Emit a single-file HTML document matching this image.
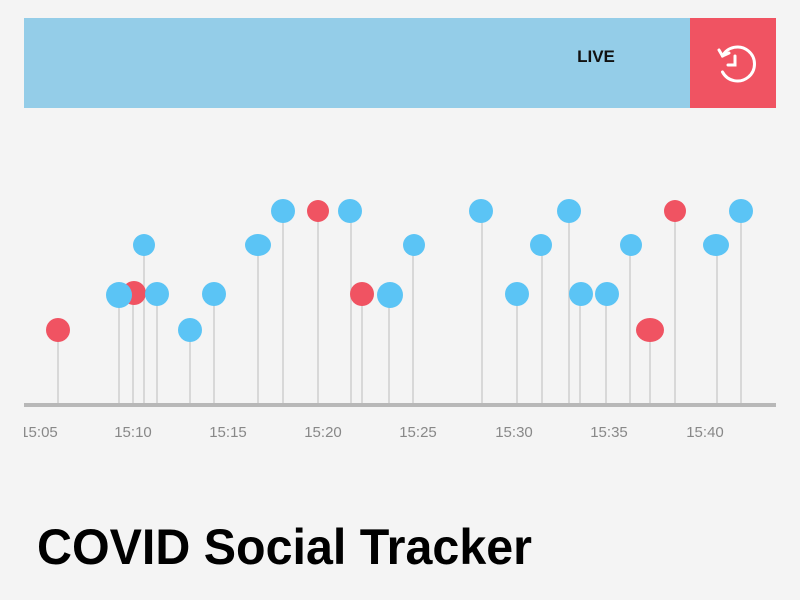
<!DOCTYPE html>
<html><head><meta charset="utf-8"><style>
html,body{margin:0;padding:0;background:#f4f4f4;}
svg{display:block;}
</style></head><body>
<svg width="800" height="600" viewBox="0 0 800 600" xmlns="http://www.w3.org/2000/svg">
<rect width="800" height="600" fill="#f4f4f4"/>
<rect x="24" y="18" width="666" height="90" fill="#94cde8"/>
<rect x="690" y="18" width="86" height="90" fill="#f05362"/>
<text x="596" y="62" text-anchor="middle" font-family="Liberation Sans, sans-serif" font-weight="bold" font-size="17" fill="#111">LIVE</text>
<g fill="none" stroke="#fff" stroke-width="3" stroke-linecap="round">
<path d="M722.5 56 A17 17 0 1 1 722.5 72"/>
<path d="M719 50 L722.5 56 L729 53"/>
<path d="M735 56 L735 65 L728 65"/>
</g>
<g stroke="#cfcfcf" stroke-width="1.5">
<line x1="58" y1="330" x2="58" y2="405"/>
<line x1="119" y1="295" x2="119" y2="405"/>
<line x1="133" y1="293" x2="133" y2="405"/>
<line x1="144" y1="245" x2="144" y2="405"/>
<line x1="157" y1="294" x2="157" y2="405"/>
<line x1="190" y1="330" x2="190" y2="405"/>
<line x1="214" y1="294" x2="214" y2="405"/>
<line x1="258" y1="245" x2="258" y2="405"/>
<line x1="283" y1="211" x2="283" y2="405"/>
<line x1="318" y1="211" x2="318" y2="405"/>
<line x1="351" y1="211" x2="351" y2="405"/>
<line x1="362" y1="294" x2="362" y2="405"/>
<line x1="389" y1="295" x2="389" y2="405"/>
<line x1="413" y1="245" x2="413" y2="405"/>
<line x1="482" y1="211" x2="482" y2="405"/>
<line x1="517" y1="294" x2="517" y2="405"/>
<line x1="542" y1="245" x2="542" y2="405"/>
<line x1="569" y1="211" x2="569" y2="405"/>
<line x1="580" y1="294" x2="580" y2="405"/>
<line x1="606" y1="294" x2="606" y2="405"/>
<line x1="630" y1="245" x2="630" y2="405"/>
<line x1="650" y1="330" x2="650" y2="405"/>
<line x1="675" y1="211" x2="675" y2="405"/>
<line x1="717" y1="245" x2="717" y2="405"/>
<line x1="741" y1="211" x2="741" y2="405"/>
</g>
<g>
<circle cx="58" cy="330" r="12" fill="#f05362"/>
<circle cx="134" cy="293" r="12" fill="#f05362"/>
<circle cx="119" cy="295" r="13" fill="#5bc4f5"/>
<circle cx="144" cy="245" r="11" fill="#5bc4f5"/>
<circle cx="157" cy="294" r="12" fill="#5bc4f5"/>
<circle cx="190" cy="330" r="12" fill="#5bc4f5"/>
<circle cx="214" cy="294" r="12" fill="#5bc4f5"/>
<ellipse cx="258" cy="245" rx="13" ry="11" fill="#5bc4f5"/>
<circle cx="283" cy="211" r="12" fill="#5bc4f5"/>
<circle cx="318" cy="211" r="11" fill="#f05362"/>
<circle cx="350" cy="211" r="12" fill="#5bc4f5"/>
<circle cx="362" cy="294" r="12" fill="#f05362"/>
<circle cx="390" cy="295" r="13" fill="#5bc4f5"/>
<circle cx="414" cy="245" r="11" fill="#5bc4f5"/>
<circle cx="481" cy="211" r="12" fill="#5bc4f5"/>
<circle cx="517" cy="294" r="12" fill="#5bc4f5"/>
<circle cx="541" cy="245" r="11" fill="#5bc4f5"/>
<circle cx="569" cy="211" r="12" fill="#5bc4f5"/>
<circle cx="581" cy="294" r="12" fill="#5bc4f5"/>
<circle cx="607" cy="294" r="12" fill="#5bc4f5"/>
<circle cx="631" cy="245" r="11" fill="#5bc4f5"/>
<ellipse cx="650" cy="330" rx="14" ry="12" fill="#f05362"/>
<circle cx="675" cy="211" r="11" fill="#f05362"/>
<ellipse cx="716" cy="245" rx="13" ry="11" fill="#5bc4f5"/>
<circle cx="741" cy="211" r="12" fill="#5bc4f5"/>
</g>
<rect x="24" y="403" width="752" height="4" fill="#b8b8b8"/>
<g font-family="Liberation Sans, sans-serif" font-size="15" fill="#888" text-anchor="middle">
<text x="39" y="437">15:05</text>
<text x="133" y="437">15:10</text>
<text x="228" y="437">15:15</text>
<text x="323" y="437">15:20</text>
<text x="418" y="437">15:25</text>
<text x="514" y="437">15:30</text>
<text x="609" y="437">15:35</text>
<text x="705" y="437">15:40</text>
</g>
<rect x="0" y="415" width="24" height="30" fill="#f4f4f4"/>
<text x="37" y="564" font-family="Liberation Sans, sans-serif" font-weight="bold" font-size="50" fill="#000" textLength="495" lengthAdjust="spacingAndGlyphs">COVID Social Tracker</text>
</svg>
</body></html>
